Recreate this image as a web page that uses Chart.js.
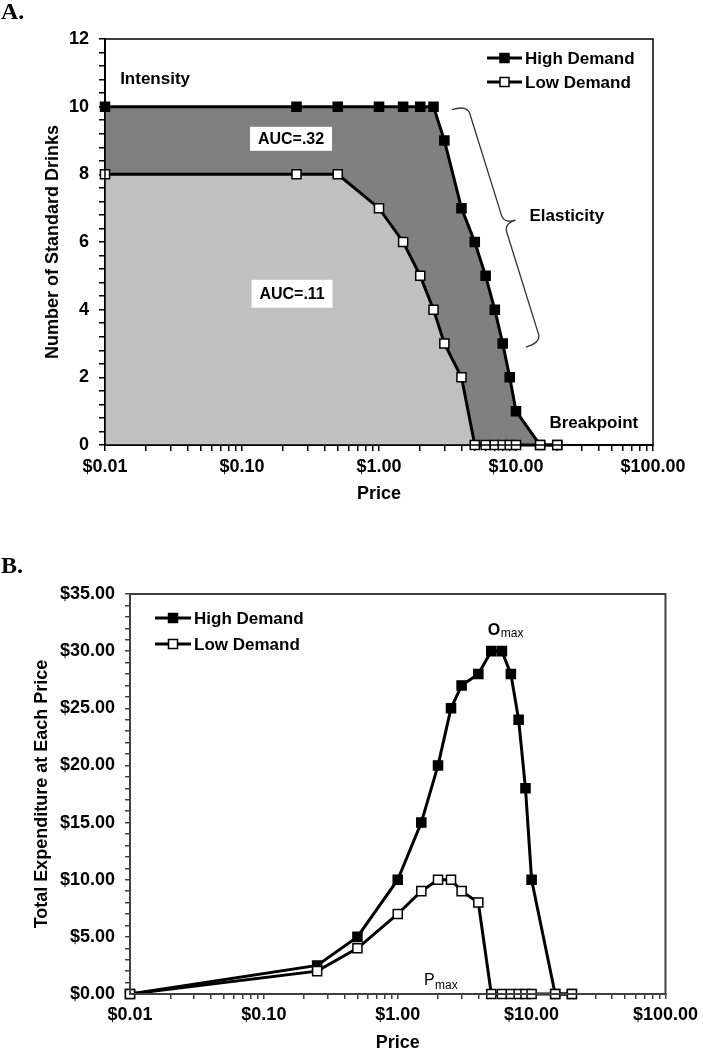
<!DOCTYPE html>
<html>
<head>
<meta charset="utf-8">
<script src="https://cdn.jsdelivr.net/npm/chart.js@4.4.0/dist/chart.umd.min.js"></script>
<style>
  html, body { margin: 0; padding: 0; background: #fff; overflow: hidden; }
  #chartA { position: absolute; left: 0; top: 0; }
  #chartB { position: absolute; left: 0; top: 510px; }
</style>
</head>
<body>
<canvas id="chartA" width="703" height="510"></canvas>
<canvas id="chartB" width="703" height="560"></canvas>
<script>
// prices in the purchase task ($0 is plotted at $0.01 on the log axis)
const prices = [0.01, 0.25, 0.5, 1, 1.5, 2, 2.5, 3, 4, 5, 6, 7, 8, 9, 10, 15, 20];
// panel A: drinks bought at each price
const highDrinks = [10, 10, 10, 10, 10, 10, 10, 9, 7, 6, 5, 4, 3, 2, 1, 0, 0];
const lowDrinks = [8, 8, 8, 7, 6, 5, 4, 3, 2, 0, 0, 0, 0, 0, 0, 0, 0];
// panel B: total expenditure at each price
const highSpend = [0, 2.5, 5, 10, 15, 20, 25, 27, 28, 30, 30, 28, 24, 18, 10, 0, 0];
const lowSpend = [0, 2, 4, 7, 9, 10, 10, 9, 8, 0, 0, 0, 0, 0, 0, 0, 0];
// axis ticks
const decades = [0.01, 0.1, 1, 10, 100];
const decadeLabels = ['$0.01', '$0.10', '$1.00', '$10.00', '$100.00'];
const drinkLabels = ['0', '2', '4', '6', '8', '10', '12'];
const spendLabels = ['$0.00', '$5.00', '$10.00', '$15.00', '$20.00', '$25.00', '$30.00', '$35.00'];

const SANS = "'Liberation Sans', Arial, sans-serif";
const SERIF = "'Liberation Serif', 'Times New Roman', serif";
const tickFont = { family: SANS, size: 18, weight: 'bold' };
const titleFont = { family: SANS, size: 18, weight: 'bold' };

// log minor ticks 1..9 in every decade
const xTicks = [];
decades.slice(0, -1).forEach((d) => {
  for (let k = 1; k <= 9; k++) xTicks.push(+(d * k).toPrecision(3));
});
xTicks.push(100);

function xLabel(v) {
  const i = decades.findIndex((d) => Math.abs(d - v) < d * 1e-6);
  return i >= 0 ? decadeLabels[i] : '';
}

function pts(ys) {
  return prices.map((p, i) => ({ x: p, y: ys[i] }));
}

function square(ctx, x, y, filled) {
  const s = 9;
  ctx.fillStyle = filled ? '#000' : '#fff';
  ctx.fillRect(x - s / 2, y - s / 2, s, s);
  ctx.lineWidth = 1.5;
  ctx.strokeStyle = '#000';
  ctx.strokeRect(x - s / 2, y - s / 2, s, s);
}

function legend(ctx, x0, x1, y0, gap) {
  [['High Demand', true], ['Low Demand', false]].forEach(([txt, filled], i) => {
    const y = y0 + i * gap;
    ctx.strokeStyle = '#000';
    ctx.lineWidth = 3;
    ctx.beginPath();
    ctx.moveTo(x0, y);
    ctx.lineTo(x1, y);
    ctx.stroke();
    square(ctx, (x0 + x1) / 2, y, filled);
    ctx.fillStyle = '#000';
    ctx.font = 'bold 17px ' + SANS;
    ctx.textAlign = 'left';
    ctx.textBaseline = 'middle';
    ctx.fillText(txt, x1 + 3, y + 1);
  });
}

// curly brace from p1 to p2: short hooks at the ends, straight arms, pointed tip
function brace(ctx, x1, y1, x2, y2, arm, tip, r) {
  const len = Math.hypot(x2 - x1, y2 - y1);
  const ux = (x2 - x1) / len, uy = (y2 - y1) / len;
  const nx = -uy, ny = ux; // points to the right of p1 -> p2 when p1 is the lower end
  const P = (s, o) => [x1 + ux * s + nx * o, y1 + uy * s + ny * o];
  const half = len / 2;
  const path = [
    [P(0, 0)], [P(0, arm), P(r, arm)], [P(half - r, arm)], [P(half, arm), P(half, tip)],
    [P(half, arm), P(half + r, arm)], [P(len - r, arm)], [P(len, arm), P(len, 0)],
  ];
  ctx.beginPath();
  ctx.moveTo(...path[0][0]);
  path.slice(1).forEach((seg) => {
    if (seg.length === 1) ctx.lineTo(...seg[0]);
    else ctx.quadraticCurveTo(seg[0][0], seg[0][1], seg[1][0], seg[1][1]);
  });
  ctx.stroke();
}

function labelBox(ctx, x, y, w, h, txt) {
  ctx.fillStyle = '#fff';
  ctx.fillRect(x - w / 2, y - h / 2, w, h);
  ctx.fillStyle = '#000';
  ctx.font = 'bold 16px ' + SANS;
  ctx.textAlign = 'center';
  ctx.textBaseline = 'middle';
  ctx.fillText(txt, x, y + 1);
}

const annotateA = {
  id: 'annotateA',
  afterDraw(chart) {
    const { ctx, chartArea: a, scales: { x, y } } = chart;
    ctx.save();
    ctx.strokeStyle = '#000';
    ctx.lineWidth = 1.5;
    ctx.strokeRect(a.left, a.top, a.right - a.left, a.bottom - a.top);

    ctx.fillStyle = '#000';
    ctx.font = 'bold 24px ' + SERIF;
    ctx.textAlign = 'left';
    ctx.textBaseline = 'alphabetic';
    ctx.fillText('A.', 1, 19);

    ctx.font = 'bold 17px ' + SANS;
    ctx.textBaseline = 'middle';
    ctx.fillText('Intensity', x.getPixelForValue(0.0129), y.getPixelForValue(10.8));
    ctx.textAlign = 'center';
    ctx.fillText('Elasticity', x.getPixelForValue(23.5), y.getPixelForValue(6.75));
    ctx.fillText('Breakpoint', x.getPixelForValue(37), y.getPixelForValue(0.65));

    labelBox(ctx, x.getPixelForValue(0.228), y.getPixelForValue(9.05), 82, 24, 'AUC=.32');
    labelBox(ctx, x.getPixelForValue(0.232), y.getPixelForValue(4.47), 81, 28, 'AUC=.11');

    ctx.strokeStyle = '#333';
    ctx.lineWidth = 1.3;
    brace(ctx, x.getPixelForValue(11.8), y.getPixelForValue(2.89),
      x.getPixelForValue(3.4), y.getPixelForValue(9.91), 16, 28, 9);

    legend(ctx, a.right - 166, a.right - 131, 58, 24);
    ctx.restore();
  },
};

const annotateB = {
  id: 'annotateB',
  afterDraw(chart) {
    const { ctx, chartArea: a, scales: { x, y } } = chart;
    ctx.save();
    ctx.strokeStyle = '#404040';
    ctx.lineWidth = 2;
    ctx.strokeRect(a.left, a.top, a.right - a.left, a.bottom - a.top);

    ctx.fillStyle = '#000';
    ctx.font = 'bold 24px ' + SERIF;
    ctx.textAlign = 'left';
    ctx.textBaseline = 'alphabetic';
    ctx.fillText('B.', 1, 63);

    // O max
    let px = x.getPixelForValue(4.7), py = y.getPixelForValue(31.4);
    ctx.font = 'bold 16px ' + SANS;
    ctx.fillText('O', px, py);
    ctx.font = '12px ' + SANS;
    ctx.fillText('max', px + 13, py + 2);
    // P max
    px = x.getPixelForValue(1.57); py = y.getPixelForValue(0.79);
    ctx.font = '16px ' + SANS;
    ctx.fillText('P', px, py);
    ctx.font = '12px ' + SANS;
    ctx.fillText('max', px + 11, py + 4);

    legend(ctx, a.left + 25, a.left + 61, a.top + 24, 26);
    ctx.restore();
  },
};

function xScale(axisColor, tickLen, titlePad, height) {
  return {
    type: 'logarithmic',
    min: 0.01,
    max: 100,
    afterBuildTicks: (s) => { s.ticks = xTicks.map((v) => ({ value: v })); },
    afterFit: (s) => { s.height = height; },
    ticks: { autoSkip: false, maxRotation: 0, color: '#000', font: tickFont, padding: 5, callback: (v) => xLabel(v) },
    grid: { drawOnChartArea: false, tickLength: tickLen, color: axisColor, lineWidth: 1.5 },
    border: { color: axisColor, width: 2 },
    title: { display: true, text: 'Price', color: '#000', font: titleFont, padding: { top: 0, bottom: titlePad } },
  };
}

function yScale(max, step, perLabel, labels, text, axisColor, tickLen, titlePad, width) {
  const n = Math.round(max / step);
  return {
    min: 0,
    max: max,
    afterBuildTicks: (s) => {
      const t = [];
      for (let i = 0; i <= n; i++) t.push({ value: +(i * step).toFixed(2) });
      s.ticks = t;
    },
    afterFit: (s) => { s.width = width; },
    ticks: {
      autoSkip: false, color: '#000', font: tickFont, padding: 10,
      callback: (v, i) => (i % perLabel === 0 ? labels[i / perLabel] : ''),
    },
    grid: { drawOnChartArea: false, tickLength: tickLen, color: axisColor, lineWidth: 1.5 },
    border: { color: axisColor, width: 2 },
    title: { display: true, text: text, color: '#000', font: titleFont, padding: { top: titlePad, bottom: 0 } },
  };
}

function series(label, data, filled, fillColor, fill) {
  return {
    label: label,
    data: data,
    borderColor: '#000',
    borderWidth: 3,
    backgroundColor: fillColor,
    fill: fill,
    pointStyle: 'rect',
    pointRadius: 6.4,
    pointBorderWidth: 1.5,
    pointBorderColor: '#000',
    pointBackgroundColor: filled ? '#000' : '#fff',
    tension: 0,
    clip: false,
  };
}

const common = {
  responsive: false,
  animation: false,
  plugins: { legend: { display: false }, tooltip: { enabled: false } },
};

// low demand is dataset 0 so it is drawn last, on top of the high demand fill
new Chart(document.getElementById('chartA').getContext('2d'), {
  type: 'line',
  data: {
    datasets: [
      series('Low Demand', pts(lowDrinks), false, '#c0c0c0', 'origin'),
      series('High Demand', pts(highDrinks), true, '#808080', 'origin'),
    ],
  },
  options: {
    ...common,
    layout: { padding: { top: 39, right: 50, left: 0, bottom: 0 } },
    scales: {
      x: xScale('#000', 6, 5, 65),
      y: yScale(12, 0.4, 5, drinkLabels, 'Number of Standard Drinks', '#000', 6, 42, 105),
    },
  },
  plugins: [annotateA],
});

new Chart(document.getElementById('chartB').getContext('2d'), {
  type: 'line',
  data: {
    datasets: [
      series('Low Demand', pts(lowSpend), false, 'transparent', false),
      series('High Demand', pts(highSpend), true, 'transparent', false),
    ],
  },
  options: {
    ...common,
    layout: { padding: { top: 84, right: 34, left: 0, bottom: 0 } },
    scales: {
      x: xScale('#404040', 5, 16, 76),
      y: yScale(35, 1, 5, spendLabels, 'Total Expenditure at Each Price', '#404040', 5, 31, 130),
    },
  },
  plugins: [annotateB],
});
</script>
</body>
</html>
